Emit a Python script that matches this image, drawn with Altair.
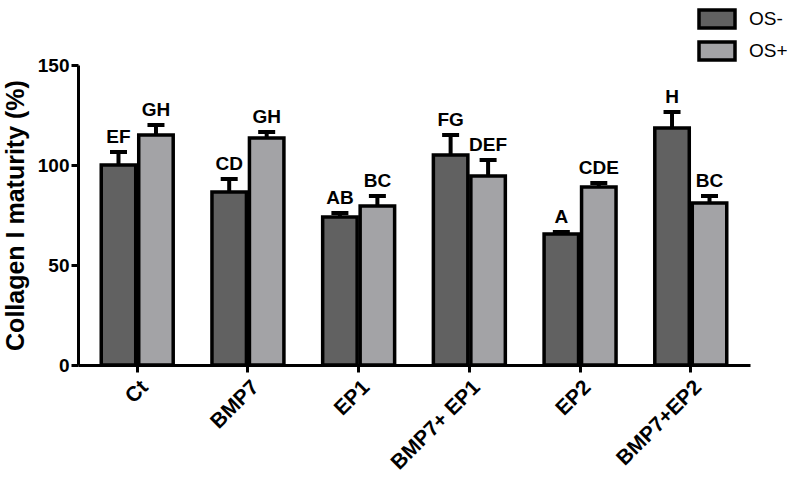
import altair as alt
import pandas as pd

# Treatment groups and the two culture conditions
groups = ["Ct", "BMP7", "EP1", "BMP7+ EP1", "EP2", "BMP7+EP2"]
conditions = ["OS-", "OS+"]

# Mean collagen I maturity (%) per group, one list per condition
means_os_minus = [100, 86.5, 74, 105, 65.5, 118.5]
means_os_plus = [115, 113.5, 79.5, 94.5, 89, 81]

# Upper error (SEM) per group
err_os_minus = [6.5, 6.5, 2, 10, 1, 8]
err_os_plus = [5, 3, 5, 8, 2, 3.5]

# Statistical grouping letters
letters_os_minus = ["EF", "CD", "AB", "FG", "A", "H"]
letters_os_plus = ["GH", "GH", "BC", "DEF", "CDE", "BC"]

rows = []
for i, g in enumerate(groups):
    rows.append({"group": g, "cond": "OS-", "mean": means_os_minus[i],
                 "upper": means_os_minus[i] + err_os_minus[i], "letter": letters_os_minus[i]})
    rows.append({"group": g, "cond": "OS+", "mean": means_os_plus[i],
                 "upper": means_os_plus[i] + err_os_plus[i], "letter": letters_os_plus[i]})
df = pd.DataFrame(rows)

FONT = "Liberation Sans"

x_enc = alt.X("group:N", sort=groups,
              scale=alt.Scale(paddingInner=0.35, paddingOuter=0.21),
              axis=alt.Axis(title=None, labelAngle=-45, labelFontSize=21,
                            labelFontWeight="bold", labelFont=FONT, labelColor="black",
                            domainColor="black", domainWidth=3, tickColor="black",
                            tickWidth=3, tickSize=7, labelPadding=4, grid=False))
xoff = alt.XOffset("cond:N", sort=conditions, scale=alt.Scale(paddingInner=0.08))

color = alt.Color("cond:N", sort=conditions,
                  scale=alt.Scale(domain=conditions, range=["#616161", "#a3a3a6"]),
                  legend=alt.Legend(title=None, orient="none", legendX=628, legendY=-57,
                                    symbolType="M-2,-1H2V1H-2Z", symbolSize=324,
                                    symbolStrokeColor="black", symbolStrokeWidth=3.5,
                                    symbolOpacity=1, labelFontSize=19, labelFont=FONT,
                                    labelColor="black", labelOffset=21, rowPadding=0,
                                    padding=0))

y_axis = alt.Axis(title="Collagen I maturity (%)", values=[0, 50, 100, 150],
                  labelFontSize=19, labelFontWeight="bold", labelFont=FONT,
                  labelColor="black", titleFontSize=25, titleFont=FONT,
                  titleFontWeight="bold", titleColor="black", titlePadding=9,
                  domainColor="black", domainWidth=3, tickColor="black",
                  tickWidth=3, tickSize=7, labelPadding=2, grid=False)

base = alt.Chart(df)

bars = base.mark_bar(stroke="black", strokeWidth=3.5, opacity=1).encode(
    x=x_enc,
    xOffset=xoff,
    y=alt.Y("mean:Q", scale=alt.Scale(domain=[0, 150], nice=False), axis=y_axis),
    color=color,
)

err_line = base.mark_rule(color="black", strokeWidth=4).encode(
    x=alt.X("group:N", sort=groups), xOffset=xoff,
    y="mean:Q", y2="upper:Q",
)

err_cap = base.mark_tick(color="black", thickness=4, size=17, opacity=1).encode(
    x=alt.X("group:N", sort=groups), xOffset=xoff,
    y="upper:Q",
)

labels = base.mark_text(fontSize=19, fontWeight="bold", font=FONT,
                        color="black", baseline="bottom", dy=-5).encode(
    x=alt.X("group:N", sort=groups), xOffset=xoff,
    y="upper:Q",
    text="letter:N",
)

chart = alt.layer(bars, err_line, err_cap, labels).properties(
    width=672, height=300,
    background="white",
    autosize=alt.AutoSizeParams(type="none"),
    padding={"left": 78, "top": 65, "right": 50, "bottom": 127},
).configure_view(stroke="transparent", strokeOpacity=0, strokeWidth=1)

chart.save("out.html", embed_options={"renderer": "svg", "actions": False})
